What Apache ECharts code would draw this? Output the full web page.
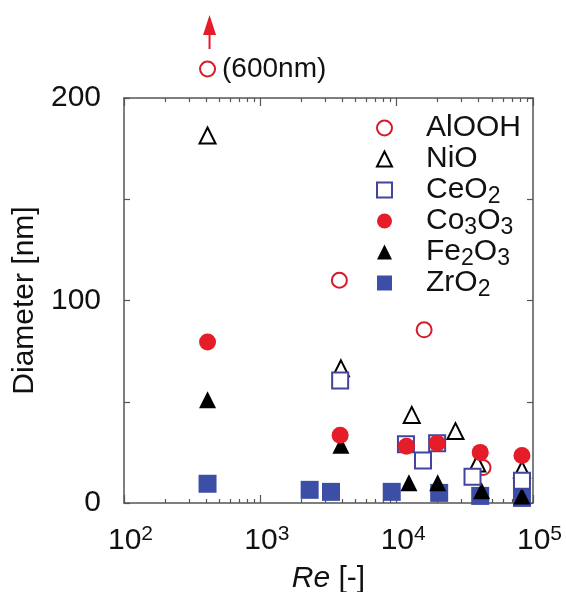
<!DOCTYPE html>
<html>
<head>
<meta charset="utf-8">
<script src="https://cdn.jsdelivr.net/npm/echarts@6/dist/echarts.min.js"></script>
<style>
  html, body { margin: 0; padding: 0; background: #fff; }
  #chart { width: 566px; height: 592px; }
</style>
</head>
<body>
<div id="chart"></div>
<script>
// Particle diameter [nm] against Reynolds number, one list per material: [Re, diameter]
const alooh = [[3800, 110], [15900, 85.5], [43000, 17.5]];
const aloohOffscale = [[410, 600]];          // beyond the diameter axis
const nio = [[410, 181.5], [3900, 66.5], [12900, 43.5], [27000, 35.5], [39000, 19.5], [83000, 16.5]];
const ceo2 = [[3850, 60.5], [11700, 29], [15600, 21], [19800, 29.5], [36000, 13], [83000, 11]];
const co3o3 = [[410, 79.5], [3850, 33.5], [11800, 28], [19800, 29.5], [41000, 25], [83000, 23.5]];
const fe2o3 = [[410, 51], [3900, 28.5], [12300, 10], [20000, 10], [42000, 6], [83000, 3.5]];
const zro2 = [[410, 9.5], [2300, 6.5], [3300, 5.5], [9200, 5.5], [20500, 5], [41000, 3.5], [83000, 2.5]];

const legendOrder = ['AlOOH', 'NiO', 'CeO2', 'Co3O3', 'Fe2O3', 'ZrO2'];

// Axis ranges and ticks
const xMin = 100, xMax = 100000;
const xMinorTicks = [200, 300, 400, 500, 600, 700, 800, 900,
                     2000, 3000, 4000, 5000, 6000, 7000, 8000, 9000,
                     20000, 30000, 40000, 50000, 60000, 70000, 80000, 90000];
const yMin = 0, yMax = 200, yStep = 50;
const yLabelValues = [0, 100, 200];

const FONT = '"Liberation Sans", Arial, Helvetica, sans-serif';
const TEXT = '#111';
const FRAME = '#555';
const RED = '#e41d28';
const RED_RING = '#d61c2c';
const BLUE = '#3d4ea6';
const BLUE_RING = '#43449d';

const chart = echarts.init(document.getElementById('chart'), null, { renderer: 'canvas' });

function xAxisDef(position, opts) {
  return Object.assign({
    type: 'log', logBase: 10, min: xMin, max: xMax, position: position,
    axisLine: { show: true, lineStyle: { color: FRAME, width: 1.5 } },
    axisTick: { show: true, inside: true, length: 8, lineStyle: { color: FRAME, width: 1.2 } },
    axisLabel: { show: false },
    splitLine: { show: false },
    minorTick: { show: false }
  }, opts);
}

// Tick-only axis in decade units, used for the 2..9 minor ticks of the log scale
function minorXAxisDef(position) {
  return {
    type: 'value', min: Math.log10(xMin), max: Math.log10(xMax), position: position,
    axisLine: { show: false },
    axisTick: { show: true, inside: true, length: 4, customValues: xMinorTicks.map(Math.log10),
                lineStyle: { color: FRAME, width: 1.2 } },
    axisLabel: { show: false },
    splitLine: { show: false }
  };
}

function yAxisDef(position, withLabels) {
  return {
    type: 'value', min: yMin, max: yMax, interval: yStep, position: position,
    axisLine: { show: true, lineStyle: { color: FRAME, width: 1.5 } },
    axisTick: { show: true, inside: true, length: 6, lineStyle: { color: FRAME, width: 1.2 } },
    axisLabel: withLabels ? {
      show: true, margin: 23, fontSize: 30, fontFamily: FONT, color: TEXT,
      formatter: v => (yLabelValues.indexOf(v) >= 0 ? String(v) : '')
    } : { show: false },
    splitLine: { show: false },
    name: withLabels ? 'Diameter [nm]' : '',
    nameLocation: 'middle', nameGap: 84,
    nameTextStyle: { fontSize: 30, fontFamily: FONT, color: TEXT }
  };
}

function scatter(name, data, symbol, size, style, z) {
  return {
    name: name, type: 'scatter', data: data, symbol: symbol, symbolSize: size,
    itemStyle: Object.assign({ opacity: 1 }, style), z: z, emphasis: { disabled: true }
  };
}

const openStyle = (c) => ({ color: '#fff', borderColor: c, borderWidth: 2, opacity: 1 });

const option = {
  backgroundColor: '#fff',
  animation: false,
  grid: { left: 124, right: 33, top: 98, bottom: 89, containLabel: false, outerBoundsMode: 'none' },
  xAxis: [
    xAxisDef('bottom', {
      axisLabel: {
        show: true, margin: 21, fontFamily: FONT, color: TEXT,
        formatter: v => '{p|}{b|10}{s|' + Math.round(Math.log10(v)) + '}',
        rich: {
          p: { width: 13 },
          b: { fontSize: 30, lineHeight: 34, fontFamily: FONT, color: TEXT },
          s: { fontSize: 21, lineHeight: 20, verticalAlign: 'top', fontFamily: FONT, color: TEXT }
        }
      },
      name: '{i|Re} [-]', nameLocation: 'middle', nameGap: 61,
      nameTextStyle: {
        fontSize: 30, fontFamily: FONT, color: TEXT,
        rich: { i: { fontSize: 30, fontStyle: 'italic', fontFamily: FONT, color: TEXT } }
      }
    }),
    minorXAxisDef('bottom'),
    xAxisDef('top'),
    minorXAxisDef('top')
  ],
  yAxis: [yAxisDef('left', true), yAxisDef('right', false)],
  legend: {
    data: legendOrder,
    orient: 'vertical', left: 376, top: 110, padding: 0,
    itemWidth: 15, itemHeight: 15, itemGap: -5,
    selectedMode: false,
    formatter: name => '{gap|}' + name.replace(/(\d)/g, '{s|$1}'),
    textStyle: {
      fontSize: 30, lineHeight: 36, fontFamily: FONT, color: TEXT,
      rich: {
        gap: { width: 29 },
        s: { fontSize: 23, lineHeight: 23, verticalAlign: 'bottom', padding: [13, 0, 0, 0],
             fontFamily: FONT, color: TEXT }
      }
    }
  },
  series: [
    scatter('ZrO2', zro2, 'rect', 18, { color: BLUE }, 2),
    scatter('AlOOH', alooh, 'circle', 15, openStyle(RED_RING), 3),
    scatter('Fe2O3', fe2o3, 'triangle', 17, { color: '#000' }, 4),
    scatter('NiO', nio, 'triangle', 16, openStyle('#000'), 5),
    scatter('CeO2', ceo2, 'rect', 16, openStyle(BLUE_RING), 6),
    scatter('Co3O3', co3o3, 'circle', 17, { color: RED }, 7),
    // off-scale AlOOH point: pinned above the top of the frame, labelled with its true value
    {
      name: 'AlOOH-offscale', type: 'scatter', clip: false, z: 8,
      data: aloohOffscale.map(([re, d]) => ({ value: [re, Math.min(d, yMax), d] })),
      symbol: 'circle', symbolSize: 15, symbolOffset: [0, -29],
      itemStyle: openStyle(RED_RING),
      label: {
        show: true, position: 'right', distance: 6,
        formatter: p => '(' + p.value[2] + 'nm)',
        fontSize: 28, fontFamily: FONT, color: TEXT
      },
      emphasis: { disabled: true }
    },
    {
      name: 'AlOOH-arrow', type: 'scatter', clip: false, z: 8,
      data: aloohOffscale.map(([re, d]) => [re, Math.min(d, yMax)]),
      symbol: 'path://M6.5,0L13,20L7.5,20L7.5,34L5.5,34L5.5,20L0,20Z',
      symbolSize: [13, 34], symbolOffset: [2, -66],
      itemStyle: { color: RED, opacity: 1 },
      emphasis: { disabled: true }
    }
  ]
};

chart.setOption(option);
</script>
</body>
</html>
